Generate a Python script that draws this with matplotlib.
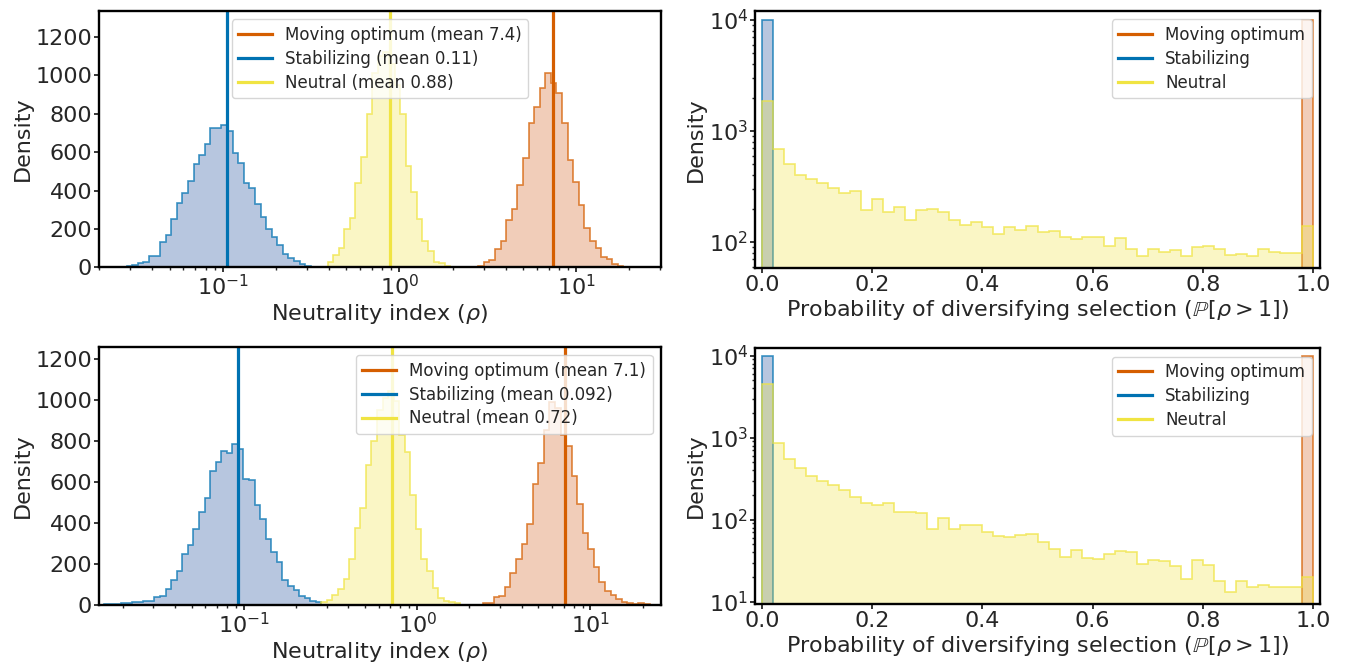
import matplotlib.pyplot as plt
from matplotlib.lines import Line2D
from matplotlib.ticker import MultipleLocator
import numpy as np

# ---- neutrality index histograms (counts per log10-spaced bin) ----
labels = ["Moving optimum", "Stabilizing", "Neutral"]

# bin grid: log10 of first edge, bin width in decades
top_grid = (-1.5756, 0.0316)
bot_grid = (-1.805, 0.0321)

top_move = [9, 26, 40, 97, 139, 245, 303, 427, 569, 753, 836, 936, 1014, 961, 907,
            753, 560, 442, 326, 206, 139, 101, 52, 42, 17, 9]
top_stab = [2, 5, 14, 23, 29, 59, 57, 130, 168, 250, 336, 387, 451, 538, 584, 643,
            725, 725, 742, 711, 598, 541, 439, 411, 329, 260, 201, 158, 116, 71, 50,
            33, 16, 9]
top_neut = [3, 29, 64, 99, 198, 258, 439, 576, 800, 1010, 1100, 1120, 1060, 948, 801,
            529, 394, 251, 137, 87, 29, 21, 7]
top_first_bin = [64, 0, 36]
top_means = [7.4, 0.106, 0.88]

bot_move = [7, 10, 39, 44, 86, 155, 225, 298, 392, 590, 691, 853, 990, 960, 827, 775,
            627, 490, 350, 270, 182, 109, 68, 47, 26, 15, 7, 5, 7, 3]
bot_stab = [3, 3, 5, 7, 10, 11, 13, 18, 18, 37, 44, 75, 120, 163, 248, 292, 370, 451,
            520, 651, 695, 749, 743, 785, 762, 614, 607, 487, 420, 322, 259, 208, 120,
            93, 72, 44, 33, 20, 13]
bot_neut = [15, 23, 46, 78, 124, 225, 375, 474, 684, 801, 951, 1008, 1046, 993, 827,
            748, 537, 371, 225, 166, 80, 34, 20, 11, 7]
bot_first_bin = [68, 0, 39]
bot_means = [7.1, 0.092, 0.72]

# ---- P[rho > 1] histograms (50 bins on [0, 1]) ----
prob_edges = np.linspace(0, 1, 51)
top_prob_move = [0] * 49 + [10000]
top_prob_stab = [10000] + [0] * 49
top_prob_neut = [1866, 687, 504, 404, 369, 340, 306, 276, 286, 194, 244, 188, 209, 158,
                 195, 200, 188, 159, 142, 152, 136, 119, 136, 129, 139, 124, 126, 110,
                 106, 111, 111, 93, 108, 87, 75, 87, 81, 85, 75, 90, 92, 86, 76, 78, 75,
                 86, 82, 80, 79, 140]
bot_prob_move = [0] * 49 + [10000]
bot_prob_stab = [10000] + [0] * 49
bot_prob_neut = [4510, 869, 550, 431, 341, 299, 268, 228, 187, 158, 151, 158, 123, 125,
                 122, 78, 104, 78, 86, 87, 71, 63, 62, 65, 67, 54, 44, 35, 43, 34, 33,
                 38, 42, 40, 29, 32, 31, 27, 19, 32, 28, 18, 13, 18, 15, 16, 15, 15, 15,
                 20]

line_colors = ["#D55E00", "#0072B2", "#F0E442"]
fill_colors = ["#DD8452", "#4C72B0", "#F0E442"]
fill_alpha = [0.4, 0.4, 0.3]

plt.rcParams.update({
    "font.family": "DejaVu Sans",
    "font.size": 16,
    "text.color": "#262626",
    "axes.labelcolor": "#262626",
    "xtick.color": "#262626",
    "ytick.color": "#262626",
    "axes.linewidth": 1.7,
    "axes.labelpad": 2,
    "xtick.major.width": 1.3,
    "ytick.major.width": 1.3,
    "xtick.minor.width": 1.0,
    "ytick.minor.width": 1.0,
    "xtick.major.size": 3.5,
    "ytick.major.size": 3.5,
    "xtick.minor.size": 2,
    "ytick.minor.size": 2,
    "xtick.major.pad": 1.5,
    "ytick.major.pad": 1.5,
    "xtick.minor.pad": 1.5,
    "ytick.minor.pad": 1.5,
    "legend.labelspacing": 0.35,
})


def draw_hist(ax, counts, edges, i):
    ax.stairs(counts, edges, fill=True, color=fill_colors[i], alpha=fill_alpha[i], lw=0)
    ax.stairs(counts, edges, color=line_colors[i], alpha=0.75, lw=1.2)


def neutrality_panel(ax, series, first_bins, grid, means, xlim, ylim, loc):
    start, width = grid
    for i, counts in enumerate(series):
        k = first_bins[i] + np.arange(len(counts) + 1)
        edges = 10 ** (start + width * k)
        draw_hist(ax, counts, edges, i)
    for i, m in enumerate(means):
        ax.axvline(m, color=line_colors[i], lw=2.3,
                   label=f"{labels[i]} (mean {m:.2g})")
    ax.set_xscale("log")
    ax.set_xlim(10 ** xlim[0], 10 ** xlim[1])
    ax.set_ylim(0, ylim)
    ax.yaxis.set_major_locator(MultipleLocator(200))
    ax.set_xlabel(r"Neutrality index ($\rho$)")
    ax.set_ylabel("Density")
    ax.legend(loc=loc, fontsize=12)


def prob_panel(ax, series, ylim):
    ax.set_yscale("log")
    for i, counts in enumerate(series):
        draw_hist(ax, counts, prob_edges, i)
    handles = [Line2D([], [], color=c, lw=2.3) for c in line_colors]
    ax.legend(handles, labels, loc="upper right", fontsize=12)
    ax.set_xlim(-0.0125, 1.0125)
    ax.set_ylim(*ylim)
    ax.set_xlabel(r"Probability of diversifying selection ($\mathbb{P}[\rho > 1]$)")
    ax.set_ylabel("Density")


fig = plt.figure(figsize=(13.49, 6.63), dpi=100)
ax_tl = fig.add_axes([0.0734, 0.5968, 0.4166, 0.3866])
ax_bl = fig.add_axes([0.0734, 0.0879, 0.4166, 0.3892])
ax_tr = fig.add_axes([0.5597, 0.5953, 0.4188, 0.3881])
ax_br = fig.add_axes([0.5597, 0.0890, 0.4188, 0.3857])

neutrality_panel(ax_tl, [top_move, top_stab, top_neut], top_first_bin, top_grid,
                 top_means, (-1.700, 1.481), 1335, "upper center")
neutrality_panel(ax_bl, [bot_move, bot_stab, bot_neut], bot_first_bin, bot_grid,
                 bot_means, (-1.836, 1.407), 1260, "upper right")
prob_panel(ax_tr, [top_prob_move, top_prob_stab, top_prob_neut], (58, 12050))
prob_panel(ax_br, [bot_prob_move, bot_prob_stab, bot_prob_neut], (9.4, 12300))

fig.savefig("out.png", dpi=100)
